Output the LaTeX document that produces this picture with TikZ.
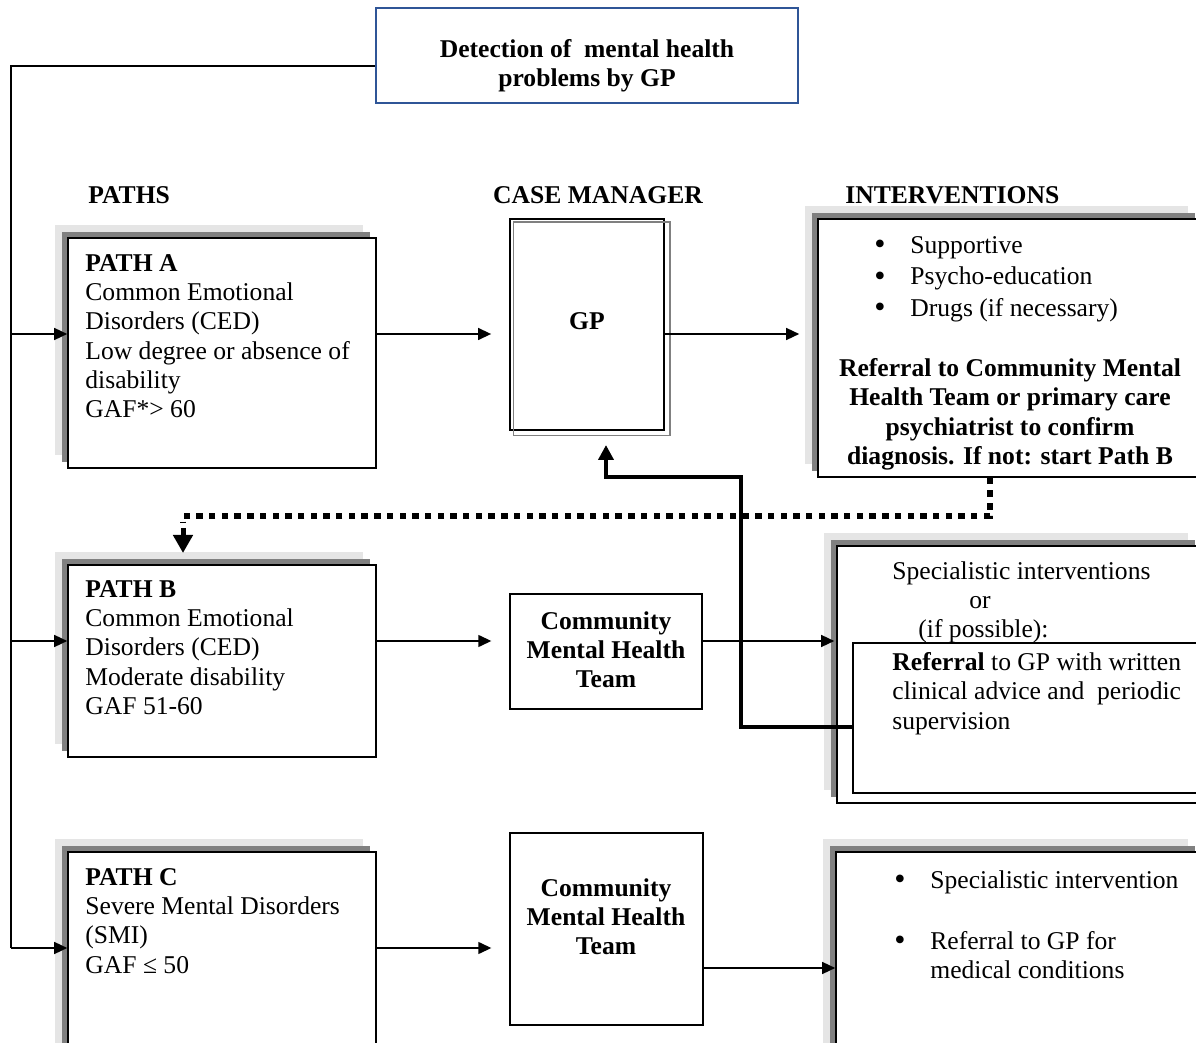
\documentclass[tikz,border=0pt]{standalone}
\usepackage{fontspec}
\setmainfont{Liberation Serif}
\usetikzlibrary{arrows.meta,fit,calc,shadows}
\definecolor{detblue}{RGB}{47,85,151}
\definecolor{shlight}{RGB}{229,229,229}
\definecolor{shdark}{RGB}{128,128,128}
\newcommand{\bodyfont}{\fontsize{12.8}{14.65}\selectfont}
\newcommand{\bigbul}{\makebox[18pt][l]{\raisebox{-0.6pt}{\fontsize{16}{16}\selectfont •}}}
\begin{document}
\begin{tikzpicture}[x=0.5pt,y=-0.5pt, font=\bodyfont,
  shbox/.style={draw=black, line width=0.8pt, fill=white, inner sep=0pt,
     general shadow={fill=shlight, shadow xshift=-6.4pt, shadow yshift=6.4pt},
     general shadow={fill=shdark, shadow xshift=-3.2pt, shadow yshift=3.2pt}},
  plainbox/.style={draw=black, line width=0.7pt, fill=white, inner sep=0pt},
  txt/.style={inner sep=0pt, align=left, anchor=north west},
  btxt/.style={inner sep=0pt, align=left, anchor=north west, font=\bodyfont\bfseries},
  ctxt/.style={inner sep=0pt, align=center, anchor=north, font=\bodyfont\bfseries},
  conn/.style={line width=0.7pt},
  arr/.style={line width=0.7pt, -{Triangle[length=6.5pt,width=6pt]}},
  fatline/.style={line width=2.3pt, -{Triangle[length=7.5pt,width=7.5pt]}},
  dotln/.style={line width=3pt, dash pattern=on 3.2pt off 3.15pt}
]
\useasboundingbox (0,0) rectangle (1196,1043);
\clip (0,0) rectangle (1196,1043);

% top box
\node[draw=detblue, line width=1pt, fill=white, inner sep=0pt, fit={(376,8) (798,103)}] (det) {};
\node[ctxt] (detT) at (587,39) {Detection of\ \ mental health\\problems by GP};

% headings
\node[btxt] (hPaths) at (88,186) {PATHS};
\node[ctxt] (hCase) at (598,186) {CASE MANAGER};
\node[btxt] (hInt) at (845,186) {INTERVENTIONS};

% path boxes
\node[shbox, fit={(68,238) (376,468)}] (pathA) {};
\node[txt] (pathAT) at (85,254) {\textbf{PATH A}\\Common Emotional\\Disorders (CED)\\Low degree or absence of\\disability\\GAF*> 60};
\node[shbox, fit={(68,565) (376,757)}] (pathB) {};
\node[txt] (pathBT) at (85,580) {\textbf{PATH B}\\Common Emotional\\Disorders (CED)\\Moderate disability\\GAF 51-60};
\node[shbox, fit={(68,852) (376,1075)}] (pathC) {};
\node[txt] (pathCT) at (85,868) {\textbf{PATH C}\\Severe Mental Disorders\\(SMI)\\GAF ≤ 50};

% case manager column
\node[draw=black, line width=0.9pt, fill=white, inner sep=0pt, fit={(510,219) (664,430)}] (gp) {};
\draw[shdark, line width=0.6pt] ($(gp.north west)+(4,4)$) rectangle ($(gp.south east)+(5,5)$);
\node[inner sep=0pt, font=\bodyfont\bfseries] (gpT) at (587,321) {GP};
\node[plainbox, fit={(510,594) (702,709)}] (cmhtB) {};
\node[ctxt] (cmhtBT) at (606,611) {Community\\Mental Health\\Team};
\node[plainbox, fit={(510,833) (703,1025)}] (cmhtC) {};
\node[ctxt] (cmhtCT) at (606,878) {Community\\Mental Health\\Team};

% interventions column
\node[shbox, fit={(818,219) (1201,477)}] (intA) {};
\node[txt] (intAL) at (874,236) {\bigbul Supportive\\[1.1pt]\bigbul Psycho-education\\[1.1pt]\bigbul Drugs (if necessary)};
\node[ctxt] (intAR) at (1010,358) {Referral to Community Mental\\Health Team or primary care\\psychiatrist to confirm\\diagnosis. If not: start Path B};

\node[shbox, fit={(837,546) (1201,803)}] (intB) {};
\node[draw=black, line width=0.6pt, fill=white, inner sep=0pt, fit={(853,643) (1210,793)}] (intBin) {};
\node[txt] (intBT) at (892,561) {Specialistic interventions\\\hspace*{38.5pt}or\\\hspace*{13pt}(if possible):};
\node[txt] (intBR) at (892,652) {\textbf{Referral} to GP with written\\clinical advice and\ \ periodic\\supervision};

\node[shbox, fit={(836,852) (1201,1075)}] (intC) {};
\node[txt] (intCT) at (894,870) {\bigbul Specialistic intervention\\[15.9pt]\bigbul Referral to GP for\\\hspace*{18pt}medical conditions};

% trunk and row connectors
\coordinate (trunkTop) at (11,66);
\coordinate (rA) at (11,334);
\coordinate (rB) at (11,641);
\coordinate (rC) at (11,948);
\coordinate (rC2) at (0,968);
\draw[conn] (det.west |- trunkTop) -- (trunkTop) -- (rC);
\draw[arr] (rA) -- (rA -| pathA.west);
\draw[arr] (rB) -- (rB -| pathB.west);
\draw[arr] (rC) -- (rC -| pathC.west);

\draw[arr] (pathA.east |- rA) -- ($(gp.west |- rA)+(-18,0)$);
\draw[arr] (gp.east |- rA) -- ($(intA.west |- rA)+(-18,0)$);
\draw[arr] (pathB.east |- rB) -- ($(cmhtB.west |- rB)+(-18,0)$);
\draw[arr] (cmhtB.east |- rB) -- ($(intB.west |- rB)+(-2,0)$);
\draw[arr] (pathC.east |- rC) -- ($(cmhtC.west |- rC)+(-18,0)$);
\draw[arr] (cmhtC.east |- rC2) -- (intC.west |- rC2);

% dotted feedback to path B
\coordinate (dotTop) at (intA.south -| 990,0);
\coordinate (bArrow) at (183,553);
\draw[dotln] (dotTop) -- (990,516) -- (183,516) -- (183,522);
\draw[line width=2.5pt, -{Triangle[length=9pt,width=9.5pt]}] (183,528) -- (bArrow);

% thick referral back to GP
\coordinate (gpIn) at (606,445);
\draw[fatline] (intBin.west |- 0,727) -- (741,727) -- (741,477) -- (606,477) -- (gpIn);
\end{tikzpicture}
\end{document}
